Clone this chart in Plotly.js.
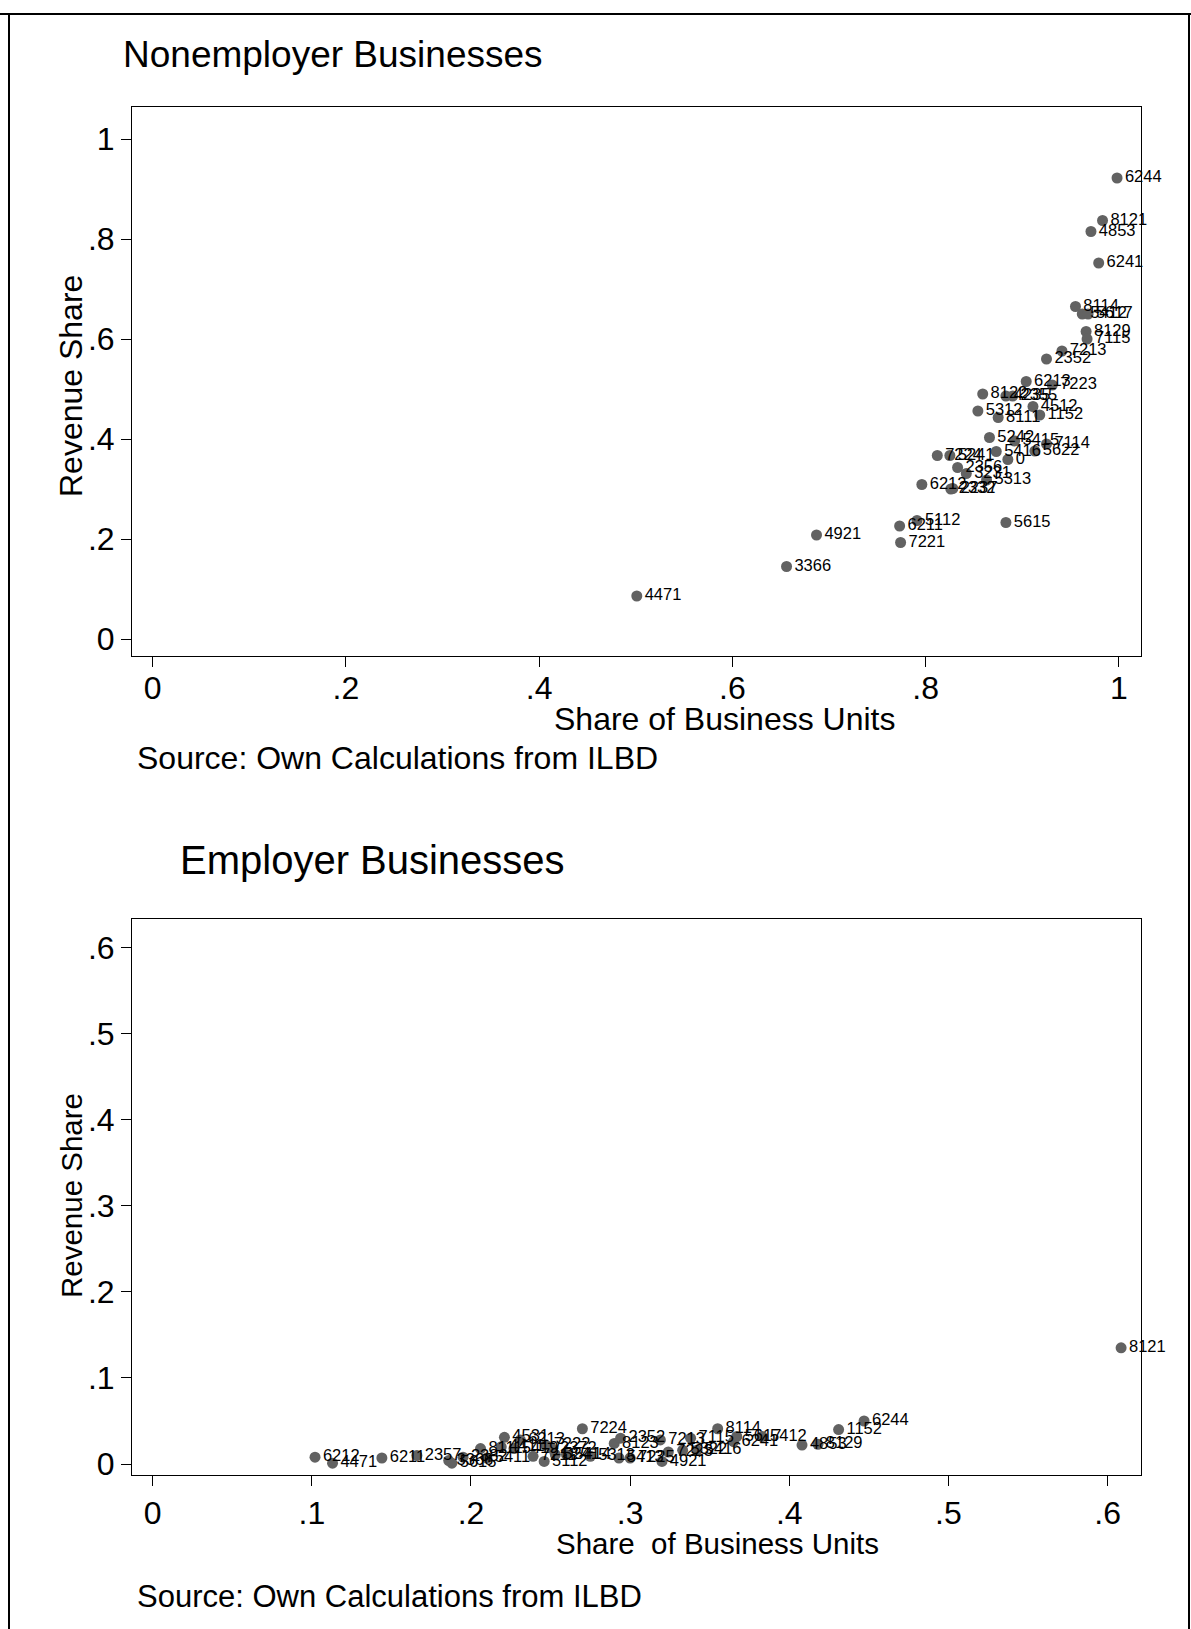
<!DOCTYPE html>
<html>
<head>
<meta charset="utf-8">
<script src="https://cdn.plot.ly/plotly-3.0.1.min.js"></script>
<style>
  html, body { margin: 0; padding: 0; background: #ffffff; }
  #chart { width: 1191px; height: 1629px; }
</style>
</head>
<body>
<div id="chart"></div>
<script>
// ---------- Data: Nonemployer Businesses ----------
const nonempLabels = ["6244","8121","4853","6241","8114","5412","5617","8129","7115","7213",
  "2352","6213","7223","8122","4235","2355","5312","4512","8111","1152",
  "5242","5415","7114","5416","5622","0","7224","5241","2356","3231",
  "5313","6212","2332","2237","5112","6211","7221","5615","4921","3366","4471"];
const nonempShareUnits = [0.998,0.983,0.971,0.979,0.955,0.962,0.968,0.966,0.967,0.941,
  0.925,0.904,0.931,0.859,0.883,0.890,0.854,0.911,0.875,0.918,
  0.866,0.892,0.925,0.873,0.913,0.885,0.812,0.825,0.833,0.842,
  0.863,0.796,0.826,0.828,0.791,0.773,0.774,0.883,0.687,0.656,0.501];
const nonempRevShare = [0.922,0.837,0.815,0.752,0.665,0.650,0.650,0.615,0.600,0.576,
  0.560,0.515,0.508,0.490,0.486,0.486,0.456,0.465,0.443,0.448,
  0.403,0.396,0.390,0.375,0.376,0.359,0.367,0.367,0.343,0.331,
  0.318,0.309,0.300,0.301,0.237,0.226,0.193,0.233,0.208,0.145,0.086];

// ---------- Data: Employer Businesses ----------
const empLabels = ["6212","4471","6211","2357","3366","5615","2382","8111","5411","4411",
  "4531","5419","6213","7211","7222","2372","5112","5241","5414","7224",
  "5313","8123","2352","5413","7225","7213","4921","7223","5322","7115",
  "5416","8114","6241","5617","5412","4853","8129","1152","6244","8121"];
const empShareUnits = [0.102,0.113,0.144,0.166,0.186,0.188,0.195,0.206,0.210,0.219,
  0.221,0.227,0.231,0.239,0.247,0.251,0.246,0.253,0.260,0.270,
  0.275,0.290,0.294,0.293,0.300,0.319,0.320,0.324,0.333,0.338,
  0.342,0.355,0.365,0.367,0.383,0.408,0.418,0.431,0.447,0.6085];
const empRevShare = [0.008,0.001,0.007,0.010,0.004,0.001,0.008,0.018,0.007,0.020,
  0.031,0.018,0.028,0.009,0.022,0.018,0.003,0.011,0.011,0.041,
  0.009,0.024,0.030,0.007,0.007,0.028,0.003,0.014,0.016,0.030,
  0.016,0.041,0.026,0.032,0.032,0.022,0.023,0.040,0.050,0.135];

// ---------- Tick labels ----------
const topXTickVals = [0,0.2,0.4,0.6,0.8,1];
const topXTickText = ["0",".2",".4",".6",".8","1"];
const topYTickVals = [0,0.2,0.4,0.6,0.8,1];
const topYTickText = ["0",".2",".4",".6",".8","1"];
const botXTickVals = [0,0.1,0.2,0.3,0.4,0.5,0.6];
const botXTickText = ["0",".1",".2",".3",".4",".5",".6"];
const botYTickVals = [0,0.1,0.2,0.3,0.4,0.5,0.6];
const botYTickText = ["0",".1",".2",".3",".4",".5",".6"];

// ---------- Layout helpers ----------
const W = 1191, H = 1629;
const px = x => x / W;
const py = y => 1 - y / H;
const FONT = "Liberation Sans, Arial, Helvetica, sans-serif";
const markerColor = "rgb(98,98,98)";

const traceTop = {
  type: "scatter", mode: "markers+text",
  x: nonempShareUnits, y: nonempRevShare, text: nonempLabels,
  textposition: "middle right",
  textfont: {family: FONT, size: 16.5, color: "#000"},
  marker: {size: 11, color: markerColor},
  xaxis: "x", yaxis: "y", hoverinfo: "x+y+text", cliponaxis: false
};
const traceBot = {
  type: "scatter", mode: "markers+text",
  x: empShareUnits, y: empRevShare, text: empLabels,
  textposition: "middle right",
  textfont: {family: FONT, size: 16.5, color: "#000"},
  marker: {size: 11, color: markerColor},
  xaxis: "x2", yaxis: "y2", hoverinfo: "x+y+text", cliponaxis: false
};

const axisCommon = {
  showgrid: false, zeroline: false,
  showline: true, mirror: true, linecolor: "#000", linewidth: 1,
  ticks: "outside", ticklen: 10, tickcolor: "#000", tickwidth: 1,
  tickfont: {family: FONT, size: 32, color: "#000"},
  tickmode: "array", fixedrange: true
};

const layout = {
  width: W, height: H,
  margin: {l: 0, r: 0, t: 0, b: 0},
  paper_bgcolor: "#fff", plot_bgcolor: "#fff",
  showlegend: false,
  font: {family: FONT, color: "#000"},
  xaxis: Object.assign({}, axisCommon, {
    domain: [px(132), px(1141)], range: [-0.0214, 1.0228],
    tickvals: topXTickVals, ticktext: topXTickText, anchor: "y",
    ticklabelstandoff: -6
  }),
  yaxis: Object.assign({}, axisCommon, {
    domain: [py(656), py(107)], range: [-0.034, 1.064],
    tickvals: topYTickVals, ticktext: topYTickText, anchor: "x"
  }),
  xaxis2: Object.assign({}, axisCommon, {
    domain: [px(132), px(1141)], range: [-0.013, 0.621],
    tickvals: botXTickVals, ticktext: botXTickText, anchor: "y2",
    ticklabelstandoff: -1
  }),
  yaxis2: Object.assign({}, axisCommon, {
    domain: [py(1475.4), py(918.5)], range: [-0.0132, 0.6338],
    tickvals: botYTickVals, ticktext: botYTickText, anchor: "x2"
  }),
  annotations: [
    {text: "Nonemployer Businesses", x: px(121), y: py(54), xanchor: "left", yanchor: "middle",
     font: {family: FONT, size: 37}},
    {text: "Employer Businesses", x: px(178), y: py(860), xanchor: "left", yanchor: "middle",
     font: {family: FONT, size: 40}},
    {text: "Share of Business Units", x: px(725), y: py(719), xanchor: "center", yanchor: "middle",
     font: {family: FONT, size: 32}},
    {text: "Share&nbsp; of Business Units", x: px(717), y: py(1543), xanchor: "center", yanchor: "middle",
     font: {family: FONT, size: 29.5}},
    {text: "Revenue Share", x: px(71), y: py(386), xanchor: "center", yanchor: "middle", textangle: -90,
     font: {family: FONT, size: 32}},
    {text: "Revenue Share", x: px(71), y: py(1196), xanchor: "center", yanchor: "middle", textangle: -90,
     font: {family: FONT, size: 29.5}},
    {text: "Source: Own Calculations from ILBD", x: px(135), y: py(758), xanchor: "left", yanchor: "middle",
     font: {family: FONT, size: 32}},
    {text: "Source: Own Calculations from ILBD", x: px(135), y: py(1596), xanchor: "left", yanchor: "middle",
     font: {family: FONT, size: 31}}
  ].map(a => Object.assign({xref: "paper", yref: "paper", showarrow: false}, a)),
  shapes: [
    {type: "line", x0: 0, x1: 1, y0: py(14), y1: py(14)},
    {type: "line", x0: px(9), x1: px(9), y0: py(14), y1: 0},
    {type: "line", x0: px(1189), x1: px(1189), y0: py(14), y1: 0}
  ].map(s => Object.assign({xref: "paper", yref: "paper", line: {color: "#000", width: 2}}, s))
};

Plotly.newPlot("chart", [traceTop, traceBot], layout, {staticPlot: true, displayModeBar: false});
</script>
</body>
</html>
